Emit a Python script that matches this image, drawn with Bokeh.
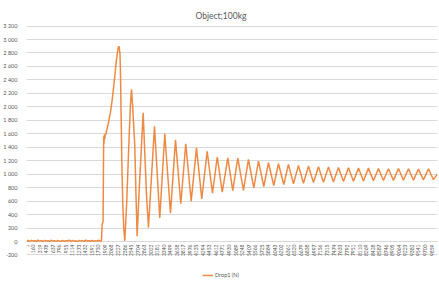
import math
from bokeh.plotting import figure
from bokeh.models import Range1d, FixedTicker, ColumnDataSource, Legend, LegendItem
from bokeh.core.properties import value
from bokeh.embed import file_html
from bokeh.resources import INLINE

# ---------------- data ----------------
title_text = "Object;100kg"
series_name = "Drop1 (N)"

# baseline before the drop (sample index, force N)
base_idx = list(range(1, 1802, 40))
base_val = [4, 15, 2, 18, 6, 12, 1, 20, 5, 14, 3, 17, 8, 11, 0, 19, 6, 13, 2, 16,
            9, 4, 18, 1, 12, 7, 20, 3, 15, 5, 10, 0, 17, 6, 14, 2, 19, 8, 11, 4,
            16, 1, 13, 7, 18, 3]

# impact and oscillation: key points (sample index, force N)
drop_idx = [1813, 1826, 1840, 1864, 1879, 1886, 1896, 1906, 1918, 1935, 1952,
            1972, 2003, 2045, 2081, 2125, 2154, 2183, 2215, 2234, 2247, 2259,
            2276, 2288, 2303, 2320, 2342, 2366, 2393,
            2441, 2490, 2531, 2556, 2585, 2636, 2665, 2694,
            2738, 2799, 2840, 2872, 2921, 2969,
            3116, 3244, 3366, 3505, 3627, 3756, 3877, 4009, 4138, 4267,
            4398, 4527, 4644, 4766,
            4900, 5021, 5143, 5282, 5403, 5533, 5647, 5776, 5890, 6019,
            6134, 6263, 6377, 6499, 6620, 6742, 6864, 6986, 7107, 7229,
            7351, 7472, 7594, 7716, 7837, 7959, 8081, 8203, 8324, 8446,
            8568, 8689, 8811, 8933, 9054, 9176, 9298, 9420, 9541, 9663,
            9785, 9906, 10000]
drop_val = [8, 20, 250, 300, 1560, 1450, 1590, 1520, 1600, 1590, 1650,
            1700, 1790, 1920, 2080, 2317, 2480, 2663, 2810, 2880, 2900, 2880,
            2780, 2500, 1900, 1200, 600, 200, 10,
            600, 1425, 2050, 2260, 2000, 1425, 700, 80,
            700, 1425, 1910, 1425, 700, 210,
            1710, 350, 1600, 420, 1510, 560, 1450, 600, 1390, 634,
            1340, 718, 1255, 733,
            1243, 757, 1240, 760, 1218, 797, 1195, 817, 1170, 832,
            1155, 846, 1145, 857, 1130, 866, 1120, 875, 1110, 880,
            1105, 885, 1100, 890, 1095, 895, 1090, 900, 1090, 902,
            1085, 905, 1080, 908, 1085, 910, 1080, 912, 1075, 915,
            1080, 918, 1000]

x_ticks = [1, 160, 319, 478, 637, 796, 955, 1114, 1273, 1432, 1591, 1750, 1909,
           2068, 2227, 2386, 2545, 2704, 2863, 3022, 3181, 3340, 3499, 3658,
           3817, 3976, 4135, 4294, 4453, 4612, 4771, 4930, 5089, 5248, 5407,
           5566, 5725, 5884, 6043, 6202, 6361, 6520, 6679, 6838, 6997, 7156,
           7315, 7474, 7633, 7792, 7951, 8110, 8269, 8428, 8587, 8746, 8905,
           9064, 9223, 9382, 9541, 9700, 9859]
y_ticks = [-200, 0, 200, 400, 600, 800, 1000, 1200, 1400, 1600, 1800, 2000,
           2200, 2400, 2600, 2800, 3000, 3200]
y_labels = ["-200", "0", "200", "400", "600", "800", "1 000", "1 200", "1 400",
            "1 600", "1 800", "2 000", "2 200", "2 400", "2 600", "2 800",
            "3 000", "3 200"]

# ---------------- figure ----------------
FONT = "Lato"
GREY = "#595959"
ORANGE = "#ED7D31"

p = figure(width=439, height=281, output_backend="svg", toolbar_location=None,
           x_range=Range1d(0, 10005), y_range=Range1d(-594, 3208),
           x_axis_location=None, min_border_left=26, min_border_right=2,
           min_border_top=25, min_border_bottom=0)
p.outline_line_color = None
p.background_fill_color = "white"
p.border_fill_color = "white"

p.title.text = title_text
p.title.text_font = FONT
p.title.text_font_size = "8.5px"
p.title.text_font_style = "normal"
p.title.text_color = GREY
p.title.align = "left"
p.title.offset = 169

yax = p.yaxis[0]
yax.ticker = FixedTicker(ticks=y_ticks)
yax.major_label_overrides = {t: s for t, s in zip(y_ticks, y_labels)}
yax.axis_line_color = None
yax.major_tick_line_color = None
yax.minor_tick_line_color = None
yax.major_label_standoff = 3
yax.major_label_text_font = FONT
yax.major_label_text_font_size = "5.5px"
yax.major_label_text_color = GREY

p.xgrid.visible = False
p.ygrid.ticker = FixedTicker(ticks=y_ticks)
p.ygrid.grid_line_color = "#D9D9D9"
p.ygrid.grid_line_width = 1

xs = base_idx + drop_idx
ys = base_val + drop_val
line = p.line(xs, ys, line_color=ORANGE, line_width=1.5, line_alpha=0.9)

# category labels hanging below the value-0 axis
lab = ColumnDataSource(dict(x=x_ticks, y=[0] * len(x_ticks), t=[str(v) for v in x_ticks]))
p.text(x="x", y="y", text="t", source=lab, angle=math.pi / 2, text_align="right",
       text_baseline="middle", y_offset=3, text_font=value(FONT),
       text_font_size="5px", text_color=GREY)

legend = Legend(items=[LegendItem(label=series_name, renderers=[line])],
                location=(176, 2), orientation="horizontal",
                glyph_width=11, glyph_height=8, label_standoff=2,
                label_text_font=FONT, label_text_font_size="5.5px",
                label_text_color=GREY, padding=0, margin=0, spacing=0,
                border_line_color=None, background_fill_alpha=0)
p.add_layout(legend, "center")

open("out.html", "w").write(file_html(p, INLINE))
